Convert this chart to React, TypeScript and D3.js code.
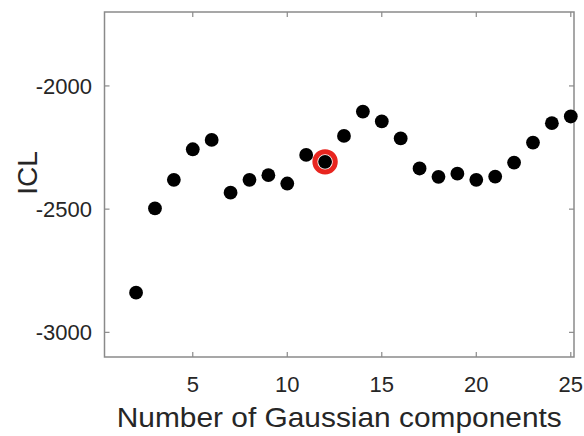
import React from "react";
import * as d3 from "d3";

const components = [2, 3, 4, 5, 6, 7, 8, 9, 10, 11, 12, 13, 14, 15, 16, 17, 18, 19, 20, 21, 22, 23, 24, 25];
const iclValues = [-2839, -2497, -2381, -2257, -2219, -2433, -2381, -2362, -2396, -2280, -2308, -2203, -2104, -2144, -2213, -2335, -2369, -2356, -2381, -2368, -2311, -2230, -2151, -2124];
const selectedComponent = 12;
const xTicks = [5, 10, 15, 20, 25];
const yTicks = [-3000, -2500, -2000];

const W = 584;
const H = 436;
const left = 104.5;
const right = 574;
const top = 12;
const bottom = 357;

export default function App() {
  const x = d3.scaleLinear().domain([0.33, 25.17]).range([left, right]);
  const y = d3.scaleLinear().domain([-3100, -1700]).range([bottom, top]);
  const axisColor = "#8a8a8a";
  const textColor = "#262626";
  const font = "Liberation Sans, Arial, Helvetica, sans-serif";
  const selIdx = components.indexOf(selectedComponent);

  return (
    <svg width={W} height={H} style={{ position: "absolute", left: 0, top: 0, background: "#fff" }}>
      <rect x={0} y={0} width={W} height={H} fill="#fff" />
      <rect x={left} y={top} width={right - left} height={bottom - top} fill="none" stroke={axisColor} strokeWidth={1.5} />
      {xTicks.map((t) => (
        <g key={"x" + t}>
          <line x1={x(t)} x2={x(t)} y1={bottom} y2={bottom - 5} stroke={axisColor} strokeWidth={1.2} />
          <line x1={x(t)} x2={x(t)} y1={top} y2={top + 5} stroke={axisColor} strokeWidth={1.2} />
          <text x={x(t)} y={392} textAnchor="middle" fontFamily={font} fontSize={22} fill={textColor}>
            {t}
          </text>
        </g>
      ))}
      {yTicks.map((t) => (
        <g key={"y" + t}>
          <line x1={left} x2={left + 5} y1={y(t)} y2={y(t)} stroke={axisColor} strokeWidth={1.2} />
          <line x1={right} x2={right - 5} y1={y(t)} y2={y(t)} stroke={axisColor} strokeWidth={1.2} />
          <text x={92} y={y(t) + 8} textAnchor="end" fontFamily={font} fontSize={22} fill={textColor}>
            {t}
          </text>
        </g>
      ))}
      <text
        x={(left + right) / 2}
        y={427}
        textAnchor="middle"
        fontFamily={font}
        fontSize={27.5}
        fill={textColor}
        textLength={445}
        lengthAdjust="spacingAndGlyphs"
      >
        Number of Gaussian components
      </text>
      <text
        transform={`translate(37,173) rotate(-90)`}
        textAnchor="middle"
        fontFamily={font}
        fontSize={28}
        fill={textColor}
      >
        ICL
      </text>
      {selIdx >= 0 && (
        <circle cx={x(components[selIdx])} cy={y(iclValues[selIdx])} r={10.2} fill="none" stroke="#e8251f" strokeWidth={5} />
      )}
      {components.map((c, i) => (
        <circle key={c} cx={x(c)} cy={y(iclValues[i])} r={6.9} fill="#000" />
      ))}
    </svg>
  );
}
